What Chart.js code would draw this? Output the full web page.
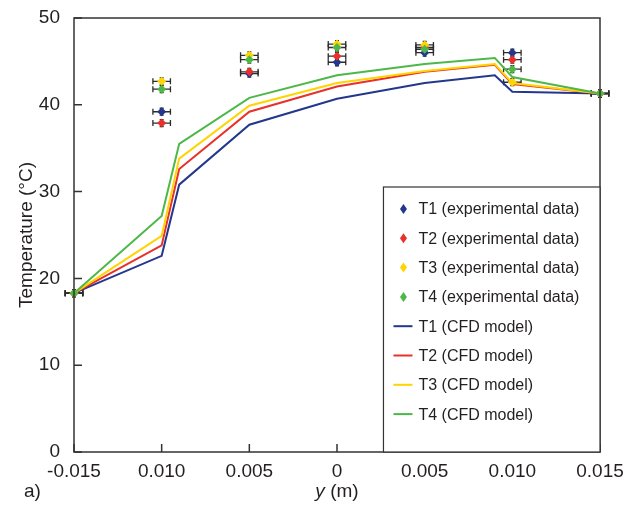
<!DOCTYPE html>
<html>
<head>
<meta charset="utf-8">
<script src="https://cdn.jsdelivr.net/npm/chart.js@4.4.1/dist/chart.umd.min.js"></script>
<style>
  html, body { margin: 0; padding: 0; background: #fff; }
  #wrap { width: 644px; height: 508px; }
</style>
</head>
<body>
<div id="wrap"><canvas id="tempChart" width="644" height="508"></canvas></div>
<script>
// CFD model curves
const xCfd = [-0.015, -0.010, -0.009, -0.005, 0, 0.005, 0.009, 0.010, 0.015];
const t1Cfd = [18.3, 22.6, 30.8, 37.7, 40.7, 42.5, 43.4, 41.5, 41.3];
const t2Cfd = [18.3, 23.8, 32.6, 39.2, 42.1, 43.8, 44.6, 42.4, 41.3];
const t3Cfd = [18.3, 24.9, 33.8, 39.9, 42.5, 43.9, 44.7, 42.5, 41.3];
const t4Cfd = [18.3, 27.2, 35.5, 40.8, 43.4, 44.7, 45.4, 43.2, 41.3];

// experimental data
const xExp = [-0.015, -0.010, -0.005, 0, 0.005, 0.010, 0.015];
const t1Exp = [18.3, 39.2, 43.6, 44.9, 46.0, 46.0, 41.3];
const t2Exp = [18.3, 37.9, 43.8, 45.6, 46.6, 45.2, 41.3];
const t3Exp = [18.3, 42.7, 45.7, 47.0, 46.9, 42.6, 41.3];
const t4Exp = [18.3, 41.8, 45.2, 46.6, 46.4, 44.1, 41.3];
const xErr = 0.0005;
const yErr = 0.4;

const xTickLabels = ['-0.015', '0.010', '0.005', '0', '0.005', '0.010', '0.015'];

const cBlue = '#23378c', cRed = '#e8312a', cYellow = '#ffd400', cGreen = '#4db848';
const ink = '#231f20';
const font = '"Liberation Sans", Arial, sans-serif';

function pts(xs, ys) {
  return xs.map(function(x, i) { return { x: x, y: ys[i] }; });
}

function expSet(label, ys, color, order) {
  return {
    type: 'scatter', label: label, data: pts(xExp, ys), kind: 'exp',
    backgroundColor: color, borderColor: color, borderWidth: 0,
    pointStyle: 'rectRot', pointRadius: 4.5, order: order, clip: false
  };
}
function cfdSet(label, ys, color, order) {
  return {
    type: 'line', label: label, data: pts(xCfd, ys), kind: 'cfd',
    borderColor: color, backgroundColor: color, borderWidth: 2,
    pointRadius: 0, tension: 0, fill: false, order: order, clip: false
  };
}

// error bars under the markers
const errorBars = {
  id: 'errorBars',
  beforeDatasetsDraw(chart) {
    const ctx = chart.ctx, xs = chart.scales.x, ys = chart.scales.y;
    ctx.save();
    ctx.strokeStyle = '#2b2b2b';
    ctx.lineWidth = 1.3;
    chart.data.datasets.forEach(function(ds) {
      if (ds.kind != 'exp') return;
      ds.data.forEach(function(p) {
        const x0 = xs.getPixelForValue(p.x - xErr), x1 = xs.getPixelForValue(p.x + xErr);
        const yc = ys.getPixelForValue(p.y), xc = xs.getPixelForValue(p.x);
        const y0 = ys.getPixelForValue(p.y - yErr), y1 = ys.getPixelForValue(p.y + yErr);
        ctx.beginPath();
        ctx.moveTo(x0, yc); ctx.lineTo(x1, yc);
        ctx.moveTo(x0, yc - 3); ctx.lineTo(x0, yc + 3);
        ctx.moveTo(x1, yc - 3); ctx.lineTo(x1, yc + 3);
        ctx.moveTo(xc, y0); ctx.lineTo(xc, y1);
        ctx.moveTo(xc - 2, y0); ctx.lineTo(xc + 2, y0);
        ctx.moveTo(xc - 2, y1); ctx.lineTo(xc + 2, y1);
        ctx.stroke();
      });
    });
    ctx.restore();
  }
};

// frame, inward ticks, legend box, titles
const decor = {
  id: 'decor',
  afterDraw(chart) {
    const ctx = chart.ctx, a = chart.chartArea, xs = chart.scales.x, ys = chart.scales.y;
    ctx.save();
    ctx.strokeStyle = '#333';
    ctx.lineWidth = 1.5;
    ctx.strokeRect(a.left, a.top, a.right - a.left, a.bottom - a.top);
    ctx.beginPath();
    xs.ticks.forEach(function(t) {
      const px = xs.getPixelForValue(t.value);
      ctx.moveTo(px, a.bottom); ctx.lineTo(px, a.bottom - 8);
    });
    ys.ticks.forEach(function(t) {
      const py = ys.getPixelForValue(t.value);
      ctx.moveTo(a.left, py); ctx.lineTo(a.left + 8, py);
    });
    ctx.stroke();

    // legend
    const lx = xs.getPixelForValue(0.00265), ly = 187;
    ctx.fillStyle = '#fff';
    ctx.fillRect(lx, ly, a.right - lx, a.bottom - ly);
    ctx.lineWidth = 1.2;
    ctx.strokeRect(lx, ly, a.right - lx, a.bottom - ly);
    ctx.font = '16px ' + font;
    ctx.textBaseline = 'middle';
    chart.data.datasets.forEach(function(ds, i) {
      const yy = ly + 22 + i * 29.3;
      if (ds.kind == 'exp') {
        ctx.fillStyle = ds.backgroundColor;
        ctx.beginPath();
        ctx.moveTo(lx + 20, yy - 5); ctx.lineTo(lx + 23.5, yy);
        ctx.lineTo(lx + 20, yy + 5); ctx.lineTo(lx + 16.5, yy);
        ctx.closePath(); ctx.fill();
      } else {
        ctx.strokeStyle = ds.borderColor;
        ctx.lineWidth = 2;
        ctx.beginPath();
        ctx.moveTo(lx + 10, yy); ctx.lineTo(lx + 29, yy);
        ctx.stroke();
      }
      ctx.fillStyle = ink;
      ctx.textAlign = 'left';
      ctx.fillText(ds.label, lx + 35, yy + 1);
    });

    // axis titles
    ctx.fillStyle = ink;
    ctx.font = '19px ' + font;
    ctx.save();
    ctx.translate(27, (a.top + a.bottom) / 2);
    ctx.rotate(-Math.PI / 2);
    ctx.textAlign = 'center';
    ctx.fillText('Temperature (°C)', 0, 0);
    ctx.restore();

    const yx = (a.left + a.right) / 2;
    ctx.textAlign = 'left';
    ctx.font = 'italic 19px ' + font;
    const w1 = ctx.measureText('y').width;
    ctx.font = '19px ' + font;
    const w2 = ctx.measureText(' (m)').width;
    const sx = yx - (w1 + w2) / 2;
    ctx.font = 'italic 19px ' + font;
    ctx.fillText('y', sx, 492);
    ctx.font = '19px ' + font;
    ctx.fillText(' (m)', sx + w1, 492);
    ctx.fillText('a)', 24, 492);
    ctx.restore();
  }
};

new Chart(document.getElementById('tempChart'), {
  data: {
    datasets: [
      expSet('T1 (experimental data)', t1Exp, cBlue, 4),
      expSet('T2 (experimental data)', t2Exp, cRed, 3),
      expSet('T3 (experimental data)', t3Exp, cYellow, 2),
      expSet('T4 (experimental data)', t4Exp, cGreen, 1),
      cfdSet('T1 (CFD model)', t1Cfd, cBlue, 8),
      cfdSet('T2 (CFD model)', t2Cfd, cRed, 7),
      cfdSet('T3 (CFD model)', t3Cfd, cYellow, 6),
      cfdSet('T4 (CFD model)', t4Cfd, cGreen, 5)
    ]
  },
  options: {
    responsive: false,
    animation: false,
    layout: { padding: { left: 0, top: 18, right: 44, bottom: 0 } },
    plugins: { legend: { display: false }, tooltip: { enabled: false } },
    scales: {
      x: {
        type: 'linear', min: -0.015, max: 0.015,
        grid: { display: false }, border: { display: false },
        afterFit: function(s) { s.height = 56; },
        ticks: {
          stepSize: 0.005, padding: 0, color: ink,
          font: { family: font, size: 19 },
          callback: function(v, i) { return xTickLabels[i]; }
        }
      },
      y: {
        min: 0, max: 50,
        grid: { display: false }, border: { display: false },
        afterFit: function(s) { s.width = 74; },
        ticks: {
          stepSize: 10, padding: 6, color: ink,
          font: { family: font, size: 19 }
        }
      }
    }
  },
  plugins: [errorBars, decor]
});
</script>
</body>
</html>
